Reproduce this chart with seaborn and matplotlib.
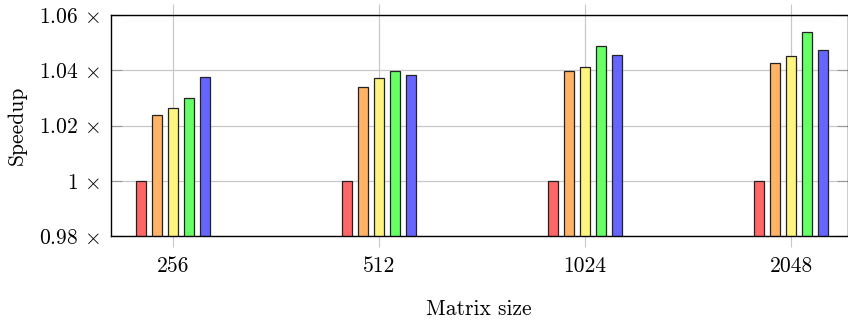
import pandas as pd
import matplotlib
matplotlib.use("Agg")
import matplotlib.pyplot as plt
import seaborn as sns

# values
sizes = ["256", "512", "1024", "2048"]
variants = ["v1", "v2", "v3", "v4", "v5"]
v1 = [1.000, 1.000, 1.000, 1.000]
v2 = [1.0238, 1.0340, 1.0399, 1.0426]
v3 = [1.0265, 1.0372, 1.0413, 1.0450]
v4 = [1.0300, 1.0398, 1.0488, 1.0539]
v5 = [1.0375, 1.0381, 1.0455, 1.0473]
colors = ["#ff6666", "#ffb366", "#fff480", "#66ff66", "#6666ff"]
ytick_vals = [0.98, 1.00, 1.02, 1.04, 1.06]
ytick_text = ["0.98", "1", "1.02", "1.04", "1.06"]

rows = []
for name, vals in zip(variants, [v1, v2, v3, v4, v5]):
    for s, v in zip(sizes, vals):
        rows.append({"size": s, "speedup": v, "variant": name})
df = pd.DataFrame(rows)

sns.set_style("white")
plt.rcParams["font.family"] = ["cmr10"]
plt.rcParams["mathtext.fontset"] = "cm"
plt.rcParams["axes.formatter.use_mathtext"] = True
plt.rcParams["text.color"] = "black"
plt.rcParams["axes.labelcolor"] = "black"
plt.rcParams["xtick.labelcolor"] = "black"
plt.rcParams["ytick.labelcolor"] = "black"

fig = plt.figure(figsize=(8.48, 3.2), dpi=100)
ax = fig.add_axes([111 / 848, 84 / 320, 736.5 / 848, 221 / 320])

sns.barplot(data=df, x="size", y="speedup", hue="variant", order=sizes,
            hue_order=variants, palette=colors, saturation=1, width=0.389,
            gap=0.34, edgecolor="#222222", linewidth=0.9, legend=False,
            ax=ax, zorder=3)

ax.set_ylim(0.98, 1.06)
ax.set_xlim(-0.301, 3.274)
ax.set_yticks(ytick_vals)
ax.set_yticklabels([r"$%s\,\times$" % t for t in ytick_text])
ax.set_xticks(range(len(sizes)))
ax.set_xticklabels(sizes)

ax.grid(True, color="#c8c8c8", linewidth=0.9, zorder=0)
ax.set_axisbelow(True)
for sp in ax.spines.values():
    sp.set_color("black")
    sp.set_linewidth(1.0)
    sp.set_zorder(4)

ax.tick_params(axis="y", direction="in", left=True, right=True, length=8,
               color="#999999", width=0.8, labelsize=15.5, pad=8)
ax.tick_params(axis="x", direction="out", bottom=True, top=True, length=8,
               color="#c8c8c8", width=0.8, labelsize=15.5, pad=7)

ax.set_xlabel("Matrix size", fontsize=15.5, labelpad=17)
ax.set_ylabel("Speedup", fontsize=15.5, labelpad=9)

fig.savefig("out.png", dpi=100)
